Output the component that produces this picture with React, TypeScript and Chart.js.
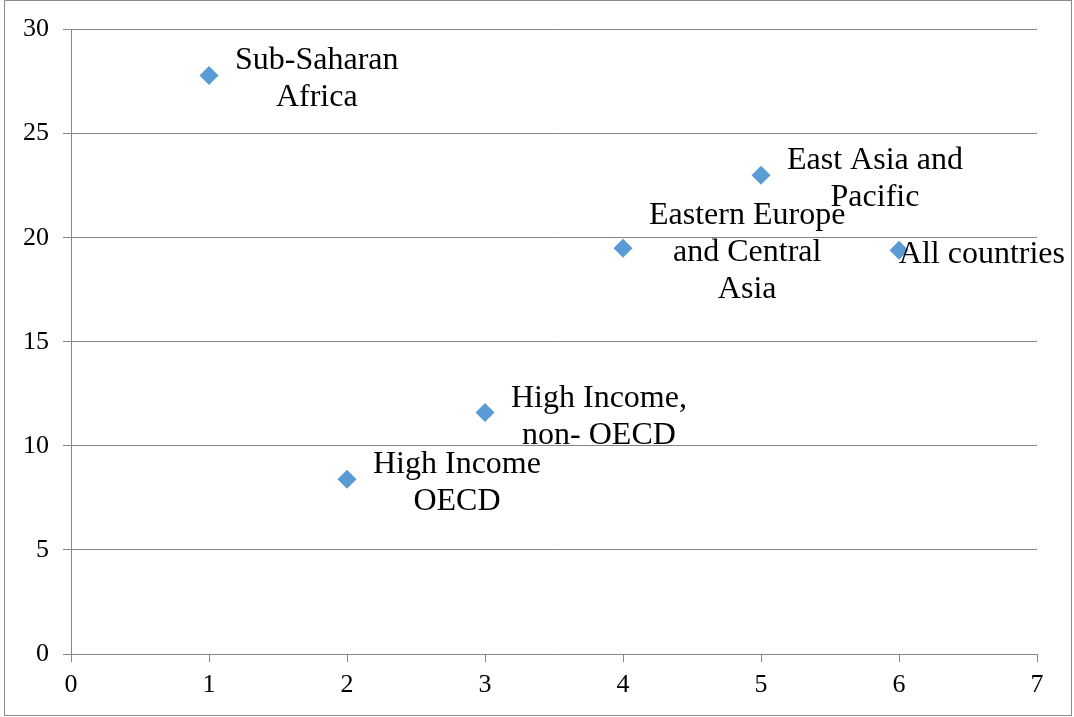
import React, { useEffect, useRef } from "react";
import { Chart, registerables } from "chart.js";

Chart.register(...registerables);

const regionLabels: string[][] = [
  ["Sub-Saharan", "Africa"],
  ["High Income", "OECD"],
  ["High Income,", "non- OECD"],
  ["Eastern Europe", "and Central", "Asia"],
  ["East Asia and", "Pacific"],
  ["All countries"],
];
const xValues: number[] = [1, 2, 3, 4, 5, 6];
const yValues: number[] = [27.8, 8.4, 11.6, 19.5, 23.0, 19.4];

const FONT = "'Liberation Serif', 'Times New Roman', serif";
const GRID = "#878787";

const labelPlugin = {
  id: "pointLabels",
  afterDatasetsDraw(chart: any) {
    const meta = chart.getDatasetMeta(0);
    const ctx = chart.ctx;
    ctx.save();
    ctx.font = `32px ${FONT}`;
    ctx.fillStyle = "#000";
    ctx.textAlign = "center";
    ctx.textBaseline = "alphabetic";
    const lh = 37;
    meta.data.forEach((pt: any, i: number) => {
      const lines = regionLabels[i] || [];
      const w = Math.max(...lines.map((l) => ctx.measureText(l).width));
      let left = pt.x + 26;
      if (left + w > chart.width - 9) left = chart.width - 9 - w;
      const cx = left + w / 2;
      lines.forEach((l, j) => {
        const y = pt.y + 12.5 + (j - (lines.length - 1) / 2) * lh;
        ctx.fillText(l, cx, y);
      });
    });
    ctx.restore();
  },
};

const borderPlugin = {
  id: "outerBorder",
  afterDraw(chart: any) {
    const ctx = chart.ctx;
    ctx.save();
    ctx.strokeStyle = "#8a8a8a";
    ctx.lineWidth = 1;
    ctx.strokeRect(4.5, 0.5, 1067, 715);
    ctx.restore();
  },
};

export default function App() {
  const ref = useRef<HTMLCanvasElement>(null);
  useEffect(() => {
    document.body.style.margin = "0";
    if (!ref.current) return;
    const chart = new Chart(ref.current, {
      type: "scatter",
      data: {
        datasets: [
          {
            data: xValues.map((x, i) => ({ x, y: yValues[i] })),
            pointStyle: "rectRot",
            pointRadius: 9.5,
            pointHoverRadius: 9.5,
            backgroundColor: "#5B9BD5",
            borderColor: "#5B9BD5",
            borderWidth: 0,
          },
        ],
      },
      options: {
        responsive: false,
        animation: false,
        events: [],
        layout: { padding: { left: 0, right: 37, top: 29, bottom: 0 } },
        plugins: { legend: { display: false }, tooltip: { enabled: false } },
        scales: {
          x: {
            type: "linear",
            min: 0,
            max: 7,
            afterFit: (s: any) => {
              s.height = 63;
            },
            ticks: {
              stepSize: 1,
              color: "#000",
              padding: 8,
              font: { family: FONT, size: 26 },
            },
            grid: {
              drawOnChartArea: false,
              drawTicks: true,
              tickLength: 8,
              color: GRID,
            },
            border: { color: GRID },
          },
          y: {
            type: "linear",
            min: 0,
            max: 30,
            afterFit: (s: any) => {
              s.width = 71;
            },
            ticks: {
              stepSize: 5,
              color: "#000",
              padding: 14,
              font: { family: FONT, size: 26 },
            },
            grid: {
              drawTicks: true,
              tickLength: 8,
              color: GRID,
            },
            border: { color: GRID },
          },
        },
      },
      plugins: [labelPlugin, borderPlugin],
    });
    return () => chart.destroy();
  }, []);
  return (
    <div style={{ position: "absolute", left: 0, top: 0, width: 1074, height: 717, background: "#fff" }}>
      <canvas ref={ref} width={1074} height={717} style={{ display: "block" }} />
    </div>
  );
}
